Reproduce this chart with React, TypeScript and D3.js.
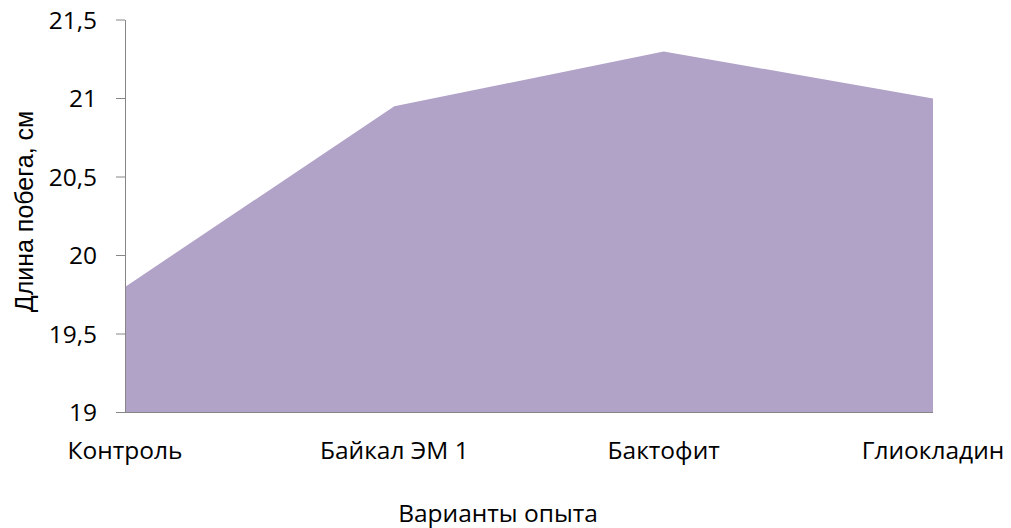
import React from "react";
import * as d3 from "d3";

const categories = ["Контроль", "Байкал ЭМ 1", "Бактофит", "Глиокладин"];
const values = [19.8, 20.95, 21.3, 21.0];
const yTicks = [19, 19.5, 20, 20.5, 21, 21.5];
const yTitle = "Длина побега, см";
const xTitle = "Варианты опыта";

const W = 1011;
const H = 528;
const plot = { left: 125, right: 933, top: 20, bottom: 412.5 };
const labelFont = "'Open Sans'";
const labelSize = 24.5;

export default function App() {
  const x = d3
    .scalePoint<string>()
    .domain(categories)
    .range([plot.left, plot.right]);
  const y = d3.scaleLinear().domain([19, 21.5]).range([plot.bottom, plot.top]);
  const data = categories.map((c, i) => ({ c, v: values[i] }));
  const area = d3
    .area<{ c: string; v: number }>()
    .x((d) => x(d.c) as number)
    .y0(y(19))
    .y1((d) => y(d.v));
  const fmt = (v: number) => String(v).replace(".", ",");

  return (
    <svg
      width={W}
      height={H}
      style={{ position: "absolute", left: 0, top: 0, background: "#fff" }}
    >
      <path d={area(data) as string} fill="#B1A2C8" />
      <line
        x1={plot.left + 0.5}
        x2={plot.left + 0.5}
        y1={y(21.5)}
        y2={y(19)}
        stroke="#868686"
        strokeWidth={1}
      />
      <line
        x1={plot.left}
        x2={plot.right}
        y1={y(19)}
        y2={y(19)}
        stroke="#868686"
        strokeWidth={1}
      />
      {yTicks.map((t) => (
        <g key={t}>
          <line
            x1={116}
            x2={plot.left}
            y1={y(t)}
            y2={y(t)}
            stroke="#868686"
            strokeWidth={1}
          />
          <text
            x={97}
            y={y(t)}
            dy="0.35em"
            textAnchor="end"
            fontFamily={labelFont}
            fontSize={labelSize}
            fill="#000"
          >
            {fmt(t)}
          </text>
        </g>
      ))}
      {categories.map((c) => (
        <text
          key={c}
          x={x(c) as number}
          y={459}
          textAnchor="middle"
          fontFamily={labelFont}
          fontSize={labelSize}
          fill="#000"
        >
          {c}
        </text>
      ))}
      <text
        x={498}
        y={522}
        textAnchor="middle"
        fontFamily={labelFont}
        fontSize={labelSize}
        fill="#000"
      >
        {xTitle}
      </text>
      <text
        transform={`translate(33,211.5) rotate(-90)`}
        textAnchor="middle"
        fontFamily="'Liberation Sans', Arial, sans-serif"
        fontSize={25}
        fill="#000"
      >
        {yTitle}
      </text>
    </svg>
  );
}
